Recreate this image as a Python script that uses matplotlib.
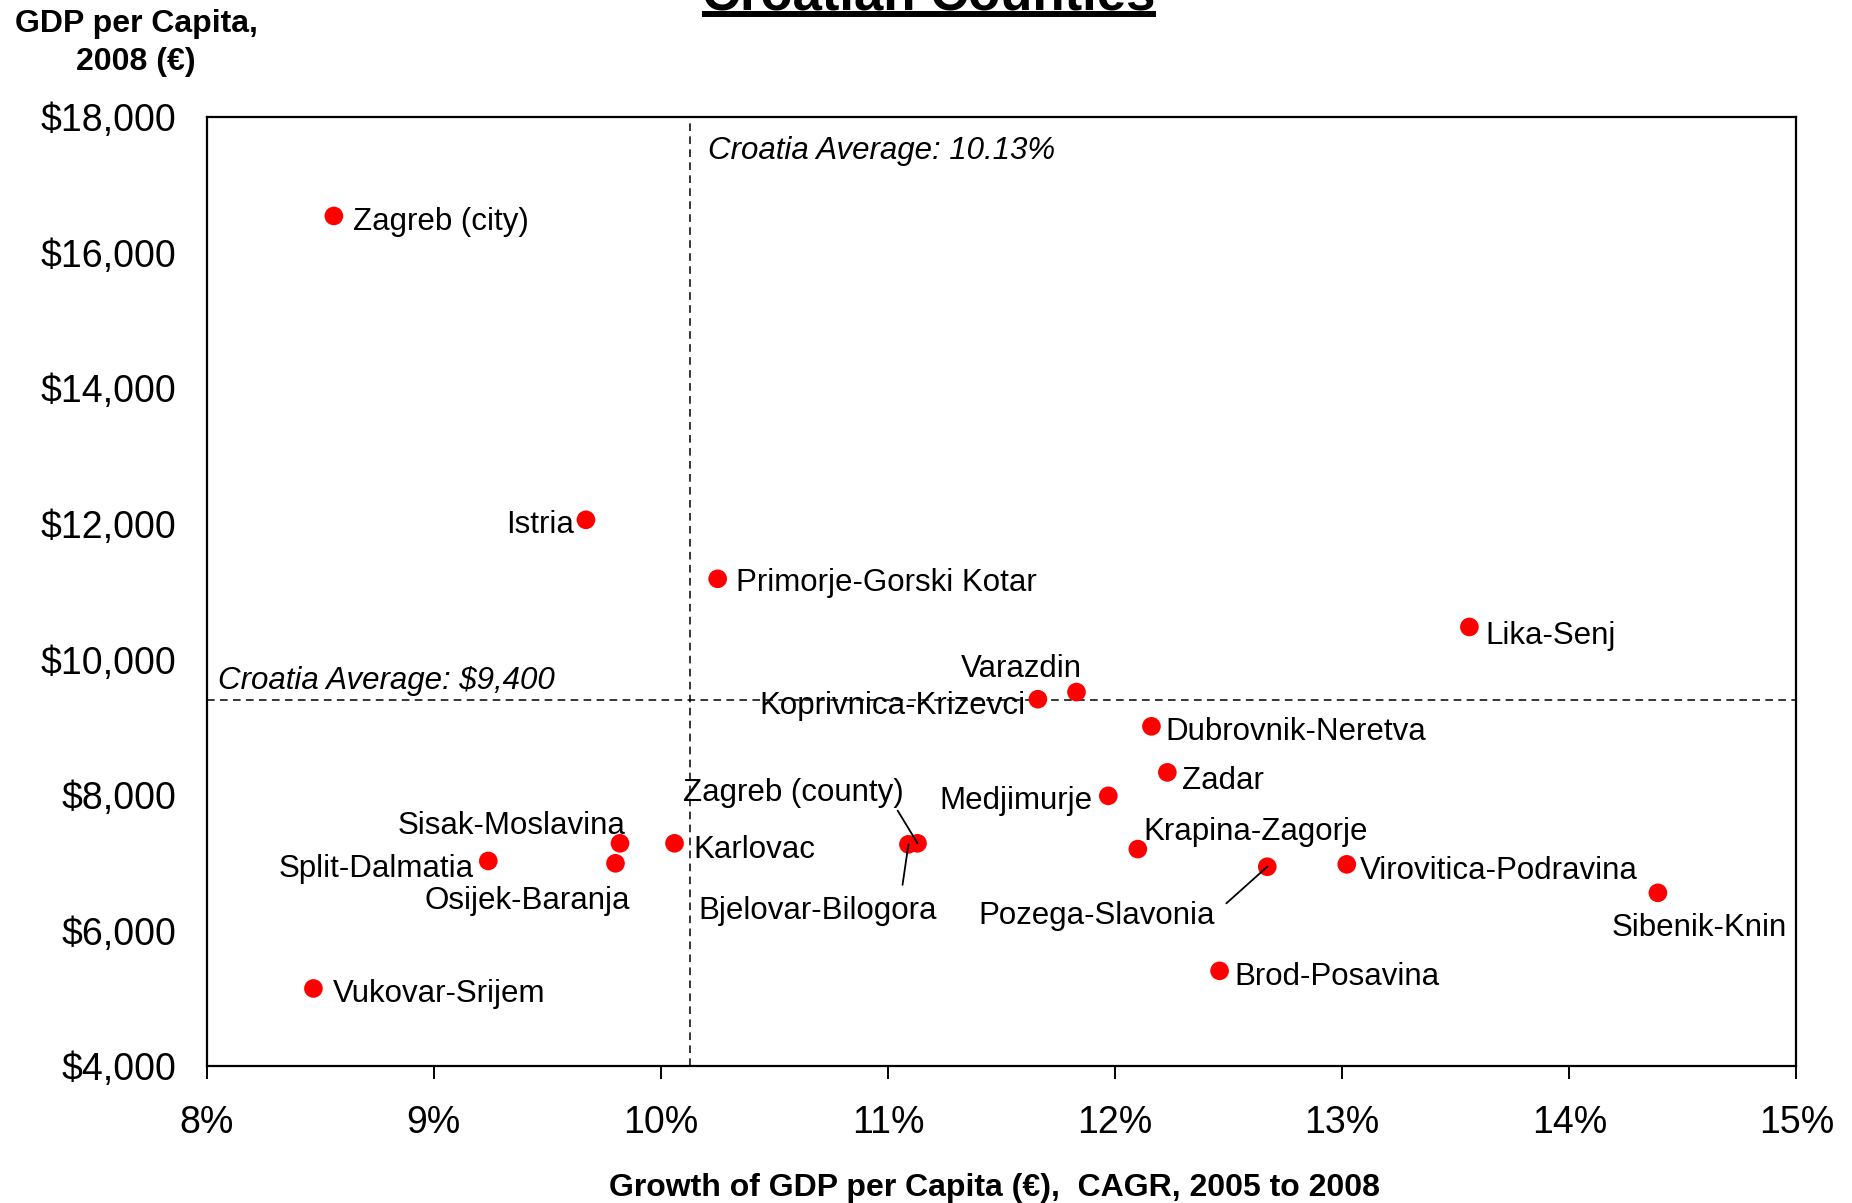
import matplotlib
matplotlib.use("Agg")
import matplotlib.pyplot as plt
from matplotlib.lines import Line2D

plt.rcParams['font.family'] = ['Liberation Sans', 'DejaVu Sans']

# ---- data ----
counties = ["Zagreb (city)", "Istria", "Primorje-Gorski Kotar", "Lika-Senj", "Varazdin",
            "Koprivnica-Krizevci", "Dubrovnik-Neretva", "Zadar", "Medjimurje",
            "Krapina-Zagorje", "Pozega-Slavonia", "Virovitica-Podravina", "Sibenik-Knin",
            "Brod-Posavina", "Vukovar-Srijem", "Split-Dalmatia", "Sisak-Moslavina",
            "Osijek-Baranja", "Karlovac", "Zagreb (county)", "Bjelovar-Bilogora"]
growth_pct = [8.56, 9.67, 10.25, 13.56, 11.83,
              11.66, 12.16, 12.23, 11.97,
              12.10, 12.67, 13.02, 14.39,
              12.46, 8.47, 9.24, 9.82,
              9.80, 10.06, 11.13, 11.09]
gdp_2008 = [16540, 12060, 11190, 10480, 9520,
            9415, 9015, 8336, 7990,
            7205, 6945, 6980, 6560,
            5410, 5150, 7030, 7290,
            6995, 7290, 7290, 7275]
avg_growth = 10.13
avg_gdp = 9400
x_ticks = [8, 9, 10, 11, 12, 13, 14, 15]
x_tick_labels = ["8%", "9%", "10%", "11%", "12%", "13%", "14%", "15%"]
y_ticks = [4000, 6000, 8000, 10000, 12000, 14000, 16000, 18000]
y_tick_labels = ["$4,000", "$6,000", "$8,000", "$10,000", "$12,000", "$14,000", "$16,000", "$18,000"]

# label placement: (dx px, dy px, ha)
label_style = {
    "Zagreb (city)": (19, -3, "left"),
    "Istria": (-12, -2, "right"),
    "Primorje-Gorski Kotar": (18, -1, "left"),
    "Lika-Senj": (16, -6, "left"),
    "Varazdin": (-55, 27, "center"),
    "Koprivnica-Krizevci": (-12, -3, "right"),
    "Dubrovnik-Neretva": (14, -2, "left"),
    "Zadar": (15, -5, "left"),
    "Medjimurje": (-16, -2, "right"),
    "Krapina-Zagorje": (6, 21, "left"),
    "Pozega-Slavonia": (-52, -46, "right"),
    "Virovitica-Podravina": (13, -3, "left"),
    "Sibenik-Knin": (41, -32, "center"),
    "Brod-Posavina": (15, -3, "left"),
    "Vukovar-Srijem": (19, -2, "left"),
    "Split-Dalmatia": (-15, -5, "right"),
    "Sisak-Moslavina": (5, 21, "right"),
    "Osijek-Baranja": (15, -34, "right"),
    "Karlovac": (19, -3, "left"),
    "Zagreb (county)": (-124, 54, "center"),
    "Bjelovar-Bilogora": (-91, -63, "center"),
}
leaders = {
    "Zagreb (county)": dict(relpos=(0.96, 0.05), shrinkA=0),
    "Bjelovar-Bilogora": dict(relpos=(0.85, 1.0), shrinkA=6),
    "Pozega-Slavonia": dict(relpos=(1.0, 0.6), shrinkA=8),
}
DY = -3.5  # global baseline nudge

fig = plt.figure(figsize=(18.52, 12.03), dpi=100)
ax = fig.add_axes([0.1116, 0.1135, 0.9700 - 0.1116, 0.9028 - 0.1135])

ax.set_xlim(8, 15)
ax.set_ylim(4000, 18000)

ax.axvline(avg_growth, color='black', lw=1.1, dashes=(5, 3.5), zorder=1)
ax.axhline(avg_gdp, color='black', lw=1.1, dashes=(5, 3.5), zorder=1)

ax.scatter(growth_pct, gdp_2008, s=180, color='#FF0000', edgecolors='none', zorder=3)

for name, gx, gy in zip(counties, growth_pct, gdp_2008):
    dx, dy, ha = label_style[name]
    kw = {}
    if name in leaders:
        L = leaders[name]
        kw['arrowprops'] = dict(arrowstyle='-', color='black', lw=1.3,
                                relpos=L['relpos'], shrinkA=L['shrinkA'], shrinkB=0)
    ax.annotate(name, xy=(gx, gy), xytext=(dx, dy + DY), textcoords='offset pixels',
                ha=ha, va='center', fontsize=22.5, color='black', zorder=4, **kw)

ax.annotate("Croatia Average: 10.13%", xy=(avg_growth, 18000), xytext=(18, -34.5),
            textcoords='offset pixels', ha='left', va='center', fontsize=22.5, style='italic')
ax.annotate("Croatia Average: $9,400", xy=(8, avg_gdp), xytext=(11, 19.5),
            textcoords='offset pixels', ha='left', va='center', fontsize=22.5, style='italic')

ax.set_xticks(x_ticks)
ax.set_xticklabels(x_tick_labels, fontsize=27)
ax.set_yticks(y_ticks)
ax.set_yticklabels(y_tick_labels, fontsize=27)
ax.tick_params(axis='x', direction='out', length=9, width=1.4, pad=19)
ax.tick_params(axis='y', length=0, pad=22)
for s in ax.spines.values():
    s.set_linewidth(1.6)
    s.set_color('black')

# axis titles
fig.text(994.6 / 1852, 1 - 1188 / 1203, "Growth of GDP per Capita (€),  CAGR, 2005 to 2008",
         ha='center', va='center', fontsize=23, weight='bold')
fig.text(136 / 1852, 1 - 43 / 1203, "GDP per Capita,\n2008 (€)", ha='center', va='center',
         fontsize=23, weight='bold', linespacing=1.35, multialignment='center')

# title (partly cut off at top, as in the source) with underline
title = fig.text(929 / 1852, 1 - 10 / 1203, "Croatian Counties", ha='center', va='baseline',
                 fontsize=38, weight='bold')
fig.canvas.draw()
bb = title.get_window_extent(renderer=fig.canvas.get_renderer())
W, H = fig.bbox.width, fig.bbox.height
uy = 1 - 14 / 1203
fig.add_artist(Line2D([bb.x0 / W, bb.x1 / W], [uy, uy], transform=fig.transFigure,
                      color='black', lw=4.3, solid_capstyle='butt'))

fig.savefig("out.png", dpi=100, facecolor='white')
